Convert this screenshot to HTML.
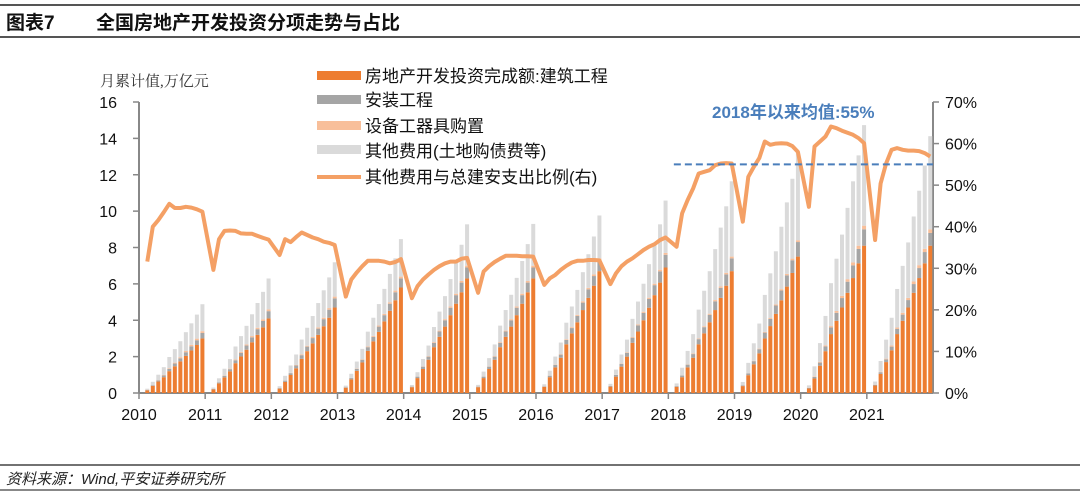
<!DOCTYPE html>
<html><head><meta charset="utf-8">
<style>
body{margin:0;width:1080px;height:498px;background:#fff;overflow:hidden;font-family:"Liberation Sans","Noto Sans CJK SC",sans-serif;}
svg{display:block}
</style></head>
<body>
<svg id="chart" width="1080" height="498" viewBox="0 0 1080 498" xmlns="http://www.w3.org/2000/svg">
<line x1="0" y1="5" x2="1080" y2="5" stroke="#555" stroke-width="2"/>
<line x1="0" y1="37" x2="1080" y2="37" stroke="#555" stroke-width="2"/>
<text x="6" y="29" font-size="19" font-weight="bold" fill="#111" font-family="Liberation Sans,Noto Sans CJK SC,sans-serif">图表7</text>
<text x="96" y="29" font-size="19" font-weight="bold" fill="#111" font-family="Liberation Sans,Noto Sans CJK SC,sans-serif">全国房地产开发投资分项走势与占比</text>
<line x1="0" y1="465" x2="1080" y2="465" stroke="#444" stroke-width="1.5"/>
<line x1="0" y1="490" x2="1080" y2="490" stroke="#888" stroke-width="2"/>
<text x="6" y="484" font-size="15" font-style="italic" fill="#222" font-family="Liberation Sans,Noto Sans CJK SC,sans-serif">资料来源：Wind,平安证券研究所</text>
<text x="100" y="86" font-size="15" fill="#333" font-family="Liberation Serif,Noto Serif CJK SC,serif">月累计值,万亿元</text>
<g id="axes"></g>
<g id="bars"></g>
<g id="lines"></g>
<text x="712" y="118" font-size="17" font-weight="bold" fill="#4A7EBB" font-family="Liberation Sans,Noto Sans CJK SC,sans-serif">2018年以来均值:55%</text>
<g id="legend">
<rect x="317" y="71" width="44" height="9" fill="#ED7D31"/>
<text x="365" y="82" font-size="17" fill="#111">房地产开发投资完成额:建筑工程</text>
<rect x="317" y="95" width="44" height="9" fill="#A5A5A5"/>
<text x="365" y="106" font-size="17" fill="#111">安装工程</text>
<rect x="317" y="121" width="44" height="9" fill="#F8BF9A"/>
<text x="365" y="132" font-size="17" fill="#111">设备工器具购置</text>
<rect x="317" y="145" width="44" height="9" fill="#DADADA"/>
<text x="365" y="157" font-size="17" fill="#111">其他费用(土地购债费等)</text>
<line x1="317" y1="177" x2="361" y2="177" stroke="#F4A065" stroke-width="4"/>
<text x="365" y="183" font-size="17" fill="#111">其他费用与总建安支出比例(右)</text>
</g>
</svg>
<script>
const years=[2010,2011,2012,2013,2014,2015,2016,2017,2018,2019,2020,2021];
const leftTicks=[0,2,4,6,8,10,12,14,16];
const rightTicks=[0,10,20,30,40,50,60,70];
const construction=[
.15,.39,.63,.87,1.2,1.47,1.74,2.04,2.34,2.64,3.0,
.2,.53,.86,1.19,1.64,2.01,2.38,2.79,3.2,3.61,4.1,
.24,.61,.99,1.36,1.88,2.3,2.73,3.2,3.67,4.14,4.7,
.29,.75,1.22,1.68,2.32,2.84,3.36,3.94,4.52,5.1,5.8,
.32,.82,1.32,1.83,2.52,3.09,3.65,4.28,4.91,5.54,6.3,
.32,.82,1.32,1.83,2.52,3.09,3.65,4.28,4.91,5.54,6.3,
.34,.87,1.41,1.94,2.68,3.28,3.89,4.56,5.23,5.9,6.7,
.35,.9,1.45,2.0,2.76,3.38,4.0,4.69,5.38,6.07,6.9,
.34,.87,1.41,1.94,2.68,3.28,3.89,4.56,5.23,5.9,6.7,
.38,.98,1.58,2.18,3.0,3.68,4.35,5.1,5.85,6.6,7.5,
.25,.8,1.5,2.3,3.24,3.97,4.7,5.51,6.32,7.13,8.1,
.41,1.05,1.7,2.35,3.24,3.97,4.7,5.51,6.32,7.13,8.1];
const installation=[
.02,.04,.06,.09,.12,.15,.17,.2,.23,.26,.3,
.02,.05,.08,.12,.16,.2,.23,.27,.31,.35,.4,
.03,.07,.1,.15,.2,.25,.29,.34,.39,.44,.5,
.03,.07,.1,.15,.2,.25,.29,.34,.39,.44,.5,
.03,.08,.13,.17,.24,.29,.35,.41,.47,.53,.6,
.03,.08,.13,.17,.24,.29,.35,.41,.47,.53,.6,
.03,.08,.13,.17,.24,.29,.35,.41,.47,.53,.6,
.04,.09,.15,.2,.28,.34,.41,.48,.55,.62,.7,
.04,.09,.15,.2,.28,.34,.41,.48,.55,.62,.7,
.04,.1,.17,.23,.32,.39,.46,.54,.62,.7,.8,
.03,.09,.17,.26,.36,.44,.52,.61,.7,.79,.9,
.04,.09,.15,.2,.28,.34,.41,.48,.55,.62,.7];
const equipment=[
.01,.01,.02,.03,.04,.05,.06,.07,.08,.09,.1,
.01,.01,.02,.03,.04,.05,.06,.07,.08,.09,.1,
.01,.01,.02,.03,.04,.05,.06,.07,.08,.09,.1,
.01,.01,.02,.03,.04,.05,.06,.07,.08,.09,.1,
.01,.01,.02,.03,.04,.05,.06,.07,.08,.09,.1,
.01,.01,.02,.03,.04,.05,.06,.07,.08,.09,.1,
.01,.01,.02,.03,.04,.05,.06,.07,.08,.09,.1,
.01,.01,.02,.03,.04,.05,.06,.07,.08,.09,.1,
.01,.01,.02,.03,.04,.05,.06,.07,.08,.09,.1,
.01,.01,.02,.03,.04,.05,.06,.07,.08,.09,.1,
.01,.03,.04,.06,.08,.1,.12,.14,.16,.18,.2,
.01,.03,.04,.06,.08,.1,.12,.14,.16,.18,.2];
const ratioPct=[
31.6,40,41.6,43.5,45.5,44.5,44.5,44.8,44.6,44.2,43.6,
29.6,37,39,39.1,39,38.4,38.3,38.3,37.8,37.3,36.9,
33.2,37,36.3,37.5,38.6,38,37.4,37,36.4,36.1,35.6,
23.2,27.3,29,30.5,31.8,31.8,31.8,31.6,31.2,31.5,32.2,
22.8,25.7,27.3,28.5,29.6,30.5,31.2,31.6,31.6,32.3,32.5,
24.1,29.2,30.5,31.5,32.3,33,33,33,32.9,32.9,32.8,
26,27.6,28.4,29.6,30.6,31.4,31.8,31.8,32,32,31.9,
26.2,28.8,30.5,31.6,32.4,33.4,34.4,35.2,35.8,36.8,37.4,
35.2,43.2,46.4,49.2,52.8,53.2,53.6,54.8,55.2,55.3,55.2,
41.2,52,54.4,56.5,60.5,59.7,60,60.1,60,59.4,58,
44.8,59.3,60.5,61.7,64.1,63.7,63.1,62.6,62.1,61.3,60.1,
36.8,50.4,55.2,58.5,58.9,58.5,58.3,58.3,58.2,57.7,56.9];
const avgSince2018=55;

const NS="http://www.w3.org/2000/svg";
const X0=139,X1=933,Y0=393,Y1=102;
const yearW=(X1-X0)/years.length, slot=yearW/12;
function yL(v){return Y0-(v/16)*(Y0-Y1);}
function yR(p){return Y0-(p/70)*(Y0-Y1);}
function xIdx(i){const k=Math.floor(i/11),m=i%11+2;return X0+k*yearW+(m-0.5)*slot;}
function mk(tag,attrs,parent){const e=document.createElementNS(NS,tag);for(const k in attrs)e.setAttribute(k,attrs[k]);parent.appendChild(e);return e;}
const axes=document.getElementById('axes'),bars=document.getElementById('bars'),lines=document.getElementById('lines');

let e=mk('line',{x1:X0,y1:Y1,x2:X0,y2:Y0,stroke:'#888','stroke-width':2},axes);


e=mk('line',{x1:X1,y1:Y1,x2:X1,y2:Y0,stroke:'#888','stroke-width':2},axes);


e=mk('line',{x1:X0,y1:Y0,x2:X1,y2:Y0,stroke:'#888','stroke-width':2},axes);


leftTicks.forEach(v=>{const y=yL(v);
 mk('line',{x1:X0-6,y1:y,x2:X0,y2:y,stroke:'#888','stroke-width':1.5},axes);
 const t=mk('text',{x:117,y:y+6,'text-anchor':'end','font-size':16,fill:'#111'},axes);t.textContent=v;
 
 });
rightTicks.forEach(v=>{const y=yR(v);
 mk('line',{x1:X1,y1:y,x2:X1+6,y2:y,stroke:'#888','stroke-width':1.5},axes);
 const t=mk('text',{x:945,y:y+6,'font-size':16,fill:'#111'},axes);t.textContent=v+'%';
 
 });
years.forEach((yr,k)=>{const x=X0+k*yearW;
 mk('line',{x1:x,y1:Y0,x2:x,y2:Y0+6,stroke:'#888','stroke-width':1.5},axes);
 const t=mk('text',{x:x,y:420,'text-anchor':'middle','font-size':16,fill:'#111'},axes);t.textContent=yr;
 
 });

const colors=['#ED7D31','#A5A5A5','#F8BF9A','#DADADA'];
const names=['bar-construction','bar-installation','bar-equipment','bar-other'];
construction.forEach((c,i)=>{
 const base=c+installation[i]+equipment[i];
 const vals=[c,installation[i],equipment[i],ratioPct[i]/100*base];
 let acc=0;const cx=xIdx(i),w=4;
 vals.forEach((v,s)=>{const y1=yL(acc+v),y0=yL(acc);
  const r=mk('rect',{x:cx-w/2,y:y1,width:w,height:Math.max(0,y0-y1),fill:colors[s]},bars);
  
  
  acc+=v;});
});
const pts=ratioPct.map((p,i)=>xIdx(i).toFixed(1)+','+yR(p).toFixed(1)).join(' ');
const pl=mk('polyline',{points:pts,fill:'none',stroke:'#F4A065','stroke-width':4,'stroke-linejoin':'round'},lines);


const avgX=X0+years.indexOf(2018)*yearW+slot;
const dl=mk('line',{x1:avgX,y1:yR(avgSince2018),x2:X1,y2:yR(avgSince2018),stroke:'#4A7EBB','stroke-width':2,'stroke-dasharray':'7,4'},lines);


</script>
</body></html>
